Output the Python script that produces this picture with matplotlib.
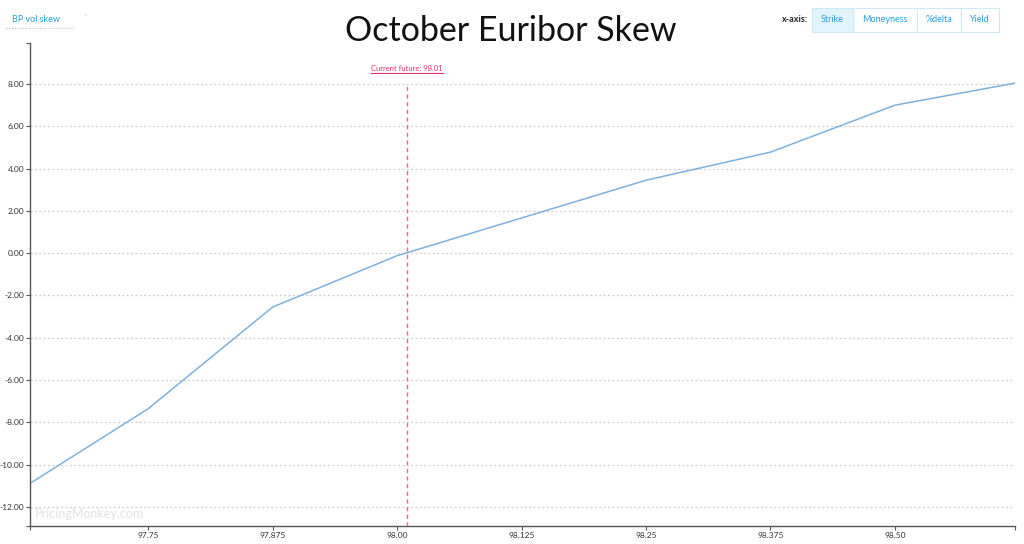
import matplotlib
matplotlib.use("Agg")
import matplotlib.pyplot as plt
from matplotlib.patches import Rectangle

# strike vs BP vol skew
strikes = [97.625, 97.75, 97.875, 98.0, 98.25, 98.375, 98.5, 98.625]
skew = [-11.08, -7.36, -2.55, -0.12, 3.45, 4.78, 7.0, 8.08]
current_future = 98.01

x_ticks = [97.75, 97.875, 98.0, 98.125, 98.25, 98.375, 98.5]
x_labels = ["97.75", "97.875", "98.00", "98.125", "98.25", "98.375", "98.50"]
y_ticks = [-12, -10, -8, -6, -4, -2, 0, 2, 4, 6, 8]
y_labels = ["%.2f" % v for v in y_ticks]
buttons = ["Strike", "Moneyness", "%delta", "Yield"]

W, H = 1024, 544
plt.rcParams["font.family"] = ["Lato", "DejaVu Sans"]
fig = plt.figure(figsize=(W / 100, H / 100), dpi=100)

def fx(px):
    return px / W

def fy(py):
    return 1 - py / H

ax = fig.add_axes([fx(30), fy(526), fx(1015) - fx(30), fy(43) - fy(526)])
xlim = (97.6315, 98.6205)
ylim = (-12.9, 9.94)

ax.plot(strikes, skew, color="#7eb1da", lw=1.1, solid_joinstyle="miter")
ax.axvline(current_future, ymax=(8.05 - ylim[0]) / (ylim[1] - ylim[0]),
           color="#ff5c90", lw=1.0, ls=(0, (3, 2.5)), zorder=3)
ax.set_xlim(*xlim)
ax.set_ylim(*ylim)

ax.set_xticks(x_ticks)
ax.set_xticklabels(x_labels)
ax.set_yticks(y_ticks)
ax.set_yticklabels(y_labels)
ax.set_xticks(list(xlim), minor=True)
ax.set_yticks(list(ylim), minor=True)
ax.tick_params(which="both", colors="#555555", labelcolor="#333333", labelsize=6,
               length=3, width=0.8, pad=1.2)
ax.grid(axis="y", which="major", color="#cccccc", ls=(0, (1.5, 2)), lw=0.9)
for s in ["top", "right"]:
    ax.spines[s].set_visible(False)
for s in ["left", "bottom"]:
    ax.spines[s].set_color("#555555")
    ax.spines[s].set_linewidth(1.0)

# current future marker label
ax.text(current_future, 8.55, "Current future: %.2f" % current_future, color="#e8336e",
        fontsize=5.5, ha="center", va="bottom")
ax.plot([current_future - 0.036, current_future + 0.036], [8.5, 8.5], color="#e8336e",
        lw=0.8, clip_on=False)

ax.text(0.005, 0.012, "PricingMonkey.com", transform=ax.transAxes, color="#e2e2e2",
        fontsize=9, ha="left", va="bottom")

# title and header controls
fig.text(fx(511), fy(31), "October Euribor Skew", fontsize=24.5,
         ha="center", va="center", color="#111111")
fig.text(fx(12), fy(20), "BP vol skew", fontsize=6.5, color="#2a9fd6", ha="left", va="center")
fig.add_artist(plt.Line2D([fx(6), fx(75)], [fy(28), fy(28)], color="#bbbbbb", lw=0.8,
                          ls=(0, (1, 1.5))))
fig.text(fx(85), fy(17), "\u02c5", fontsize=5, color="#cccccc", ha="center", va="center")

fig.text(fx(808), fy(20), "x-axis:", fontsize=6.5, fontweight="bold", color="#222222",
         ha="right", va="center")
edges = [812, 853, 917, 961, 999]
for i, b in enumerate(buttons):
    x0, x1 = edges[i], edges[i + 1]
    face = "#e1f4fc" if i == 0 else "white"
    fig.add_artist(Rectangle((fx(x0), fy(32)), fx(x1) - fx(x0), fy(8) - fy(32),
                             transform=fig.transFigure, facecolor=face,
                             edgecolor="#cde9f5", lw=0.8))
    fig.text(fx((x0 + x1) / 2), fy(20), b, fontsize=6.5, color="#2a9fd6",
             ha="center", va="center")

fig.savefig("out.png", dpi=100)
